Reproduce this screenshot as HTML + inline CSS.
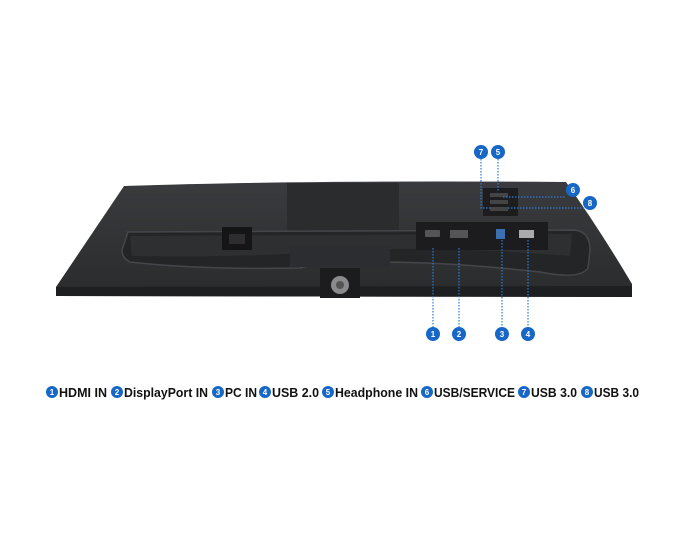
<!DOCTYPE html>
<html><head><meta charset="utf-8"><style>html,body{margin:0;padding:0;background:#fff;width:684px;height:547px;overflow:hidden}</style></head><body>
<svg width="684" height="547" viewBox="0 0 684 547" xmlns="http://www.w3.org/2000/svg" font-family="Liberation Sans, sans-serif">
<defs><linearGradient id="g" x1="0" y1="0" x2="0" y2="1"><stop offset="0" stop-color="#3a3b3e"/><stop offset="1" stop-color="#2a2b2d"/></linearGradient></defs>
<path d="M124,186 Q300,180 566,182 Q600,230 632,284 L632,297 L56,296 L56,287 Z" fill="url(#g)"/>
<path d="M56,287 L632,286 L632,297 L56,296 Z" fill="#1e1f21"/>
<rect x="287" y="183" width="112" height="48" fill="#2b2c2e"/>
<path d="M128,232 L575,230 Q590,232 590,250 L588,268 Q580,280 540,272 Q450,262 380,262 Q320,262 300,268 Q200,270 130,262 Q122,258 122,250 Z" fill="#242527" stroke="#45464a" stroke-width="1.5"/>
<path d="M130,236 L572,234 L570,256 Q450,246 350,250 Q250,258 132,256 Z" fill="#2e2f31"/>
<rect x="290" y="247" width="100" height="20" fill="#2c2d30"/>
<rect x="222" y="227" width="30" height="23" fill="#151517"/>
<rect x="229" y="234" width="16" height="10" fill="#2d2d2f"/>
<rect x="416" y="222" width="132" height="28" fill="#1c1c1e"/>
<rect x="425" y="230" width="15" height="7" fill="#555" rx="1"/>
<rect x="450" y="230" width="18" height="8" fill="#555"/>
<rect x="496" y="229" width="9" height="10" fill="#3b6fb0"/>
<rect x="519" y="230" width="15" height="8" fill="#aaa"/>
<rect x="483" y="188" width="35" height="28" fill="#1d1d1f"/>
<rect x="490" y="193" width="18" height="4" fill="#444"/>
<rect x="490" y="200" width="18" height="4" fill="#444"/>
<rect x="490" y="207" width="18" height="4" fill="#444"/>
<rect x="320" y="268" width="40" height="30" fill="#1c1c1e"/>
<circle cx="340" cy="285" r="9" fill="#8a8a8e"/><circle cx="340" cy="285" r="4" fill="#555"/>
<g stroke="#2a7ad8" stroke-width="1.2" stroke-dasharray="1.5,1.5" fill="none">
<path d="M433,248 V327"/><path d="M459,248 V327"/><path d="M502,240 V327"/><path d="M528,240 V327"/>
<path d="M481,159 V208 H492"/><path d="M498,159 V192"/>
<path d="M503,197 H566"/><path d="M508,208 H584"/>
</g>
<g fill="#1767c6" font-size="8" font-weight="bold" text-anchor="middle">
<circle cx="433" cy="334" r="7"/><circle cx="459" cy="334" r="7"/><circle cx="502" cy="334" r="7"/><circle cx="528" cy="334" r="7"/>
<circle cx="481" cy="152" r="7"/><circle cx="498" cy="152" r="7"/><circle cx="573" cy="190" r="7"/><circle cx="590" cy="203" r="7"/>
<g fill="#fff"><text x="433" y="337">1</text><text x="459" y="337">2</text><text x="502" y="337">3</text><text x="528" y="337">4</text>
<text x="481" y="155">7</text><text x="498" y="155">5</text><text x="573" y="193">6</text><text x="590" y="206">8</text></g>
</g>
<g font-size="13" font-weight="bold" fill="#111">
<g fill="#1767c6"><circle cx="52" cy="392" r="6"/><circle cx="117" cy="392" r="6"/><circle cx="218" cy="392" r="6"/><circle cx="265" cy="392" r="6"/><circle cx="328" cy="392" r="6"/><circle cx="427" cy="392" r="6"/><circle cx="524" cy="392" r="6"/><circle cx="587" cy="392" r="6"/></g>
<g fill="#fff" font-size="8" text-anchor="middle"><text x="52" y="395">1</text><text x="117" y="395">2</text><text x="218" y="395">3</text><text x="265" y="395">4</text><text x="328" y="395">5</text><text x="427" y="395">6</text><text x="524" y="395">7</text><text x="587" y="395">8</text></g>
<text x="59" y="397" textLength="48" lengthAdjust="spacingAndGlyphs">HDMI IN</text>
<text x="124" y="397" textLength="84" lengthAdjust="spacingAndGlyphs">DisplayPort IN</text>
<text x="225" y="397" textLength="32" lengthAdjust="spacingAndGlyphs">PC IN</text>
<text x="272" y="397" textLength="47" lengthAdjust="spacingAndGlyphs">USB 2.0</text>
<text x="335" y="397" textLength="83" lengthAdjust="spacingAndGlyphs">Headphone IN</text>
<text x="434" y="397" textLength="81" lengthAdjust="spacingAndGlyphs">USB/SERVICE</text>
<text x="531" y="397" textLength="46" lengthAdjust="spacingAndGlyphs">USB 3.0</text>
<text x="594" y="397" textLength="45" lengthAdjust="spacingAndGlyphs">USB 3.0</text>
</g>
</svg>
</body></html>
